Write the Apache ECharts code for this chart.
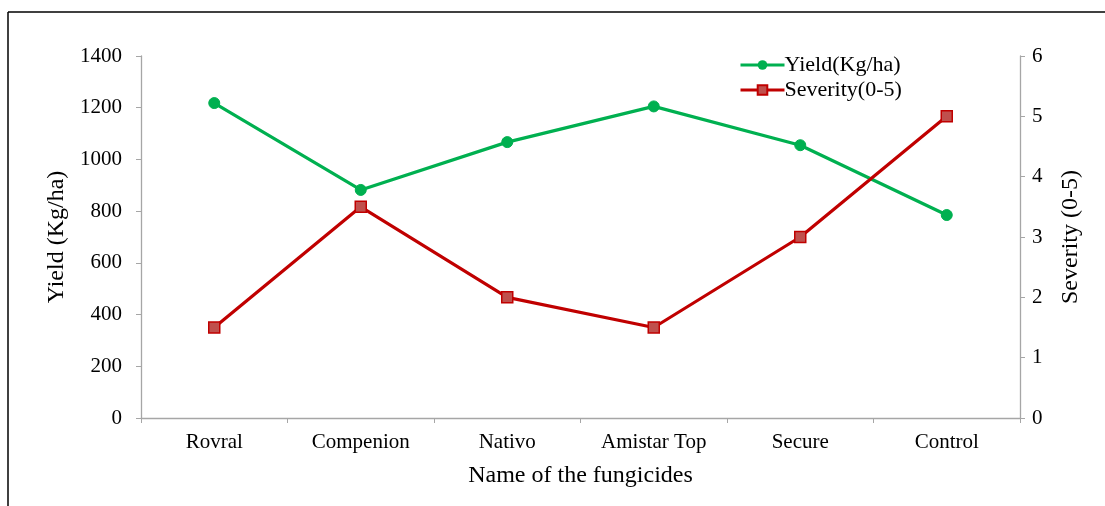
<!DOCTYPE html>
<html>
<head>
<meta charset="utf-8">
<script src="https://cdn.jsdelivr.net/npm/echarts@6/dist/echarts.min.js"></script>
<style>
html,body{margin:0;padding:0;background:#fff;}
#c{width:1105px;height:506px;}
</style>
</head>
<body>
<div id="c"></div>
<script>
var categories = ['Rovral', 'Compenion', 'Nativo', 'Amistar Top', 'Secure', 'Control'];
var yieldValues = [1218, 882, 1067, 1205, 1055, 785];
var severityValues = [1.5, 3.5, 2.0, 1.5, 3.0, 5.0];
var yieldName = 'Yield(Kg/ha)';
var severityName = 'Severity(0-5)';

var FONT = '"Liberation Serif", "Times New Roman", serif';
var AXIS_COLOR = '#a6a6a6';
var chart = echarts.init(document.getElementById('c'));
chart.setOption({
  animation: false,
  backgroundColor: '#fff',
  textStyle: { fontFamily: FONT, color: '#000' },
  graphic: [
    { type: 'line', shape: { x1: 8, y1: 12, x2: 1105, y2: 12 }, style: { stroke: '#000', lineWidth: 1.5 } },
    { type: 'line', shape: { x1: 8, y1: 12, x2: 8, y2: 506 }, style: { stroke: '#000', lineWidth: 1.5 } }
  ],
  grid: { left: 141, right: 85, top: 56, bottom: 88 },
  legend: {
    orient: 'vertical',
    left: 734, top: 49,
    itemWidth: 44, itemHeight: 12, itemGap: 3,
    lineStyle: { width: 3 },
    textStyle: { fontFamily: FONT, fontSize: 22, color: '#000', padding: [0, 0, 0, -5] },
    data: [yieldName, severityName]
  },
  xAxis: {
    type: 'category',
    data: categories,
    boundaryGap: true,
    name: 'Name of the fungicides',
    nameLocation: 'middle',
    nameGap: 46,
    nameTextStyle: { fontFamily: FONT, fontSize: 24, color: '#000' },
    axisLine: { lineStyle: { color: AXIS_COLOR, width: 1.3 } },
    axisTick: { show: true, length: 5, lineStyle: { color: AXIS_COLOR } },
    axisLabel: { fontFamily: FONT, fontSize: 21, color: '#000', margin: 14 },
    splitLine: { show: false }
  },
  yAxis: [
    {
      type: 'value', min: 0, max: 1400, interval: 200,
      name: 'Yield (Kg/ha)',
      nameLocation: 'middle',
      nameGap: 69,
      nameTextStyle: { fontFamily: FONT, fontSize: 24, color: '#000' },
      axisLine: { show: true, lineStyle: { color: AXIS_COLOR, width: 1.3 } },
      axisTick: { show: true, length: 5, lineStyle: { color: AXIS_COLOR } },
      axisLabel: { fontFamily: FONT, fontSize: 21, color: '#000', margin: 19, formatter: function (v) { return String(v); } },
      splitLine: { show: false }
    },
    {
      type: 'value', min: 0, max: 6, interval: 1,
      position: 'right',
      name: 'Severity (0-5)',
      nameLocation: 'middle',
      nameGap: 39,
      nameTextStyle: { fontFamily: FONT, fontSize: 24, color: '#000' },
      axisLine: { show: true, lineStyle: { color: AXIS_COLOR, width: 1.3 } },
      axisTick: { show: true, length: 5, lineStyle: { color: AXIS_COLOR } },
      axisLabel: { fontFamily: FONT, fontSize: 21, color: '#000', margin: 12 },
      splitLine: { show: false }
    }
  ],
  series: [
    {
      name: yieldName,
      type: 'line',
      yAxisIndex: 0,
      data: yieldValues,
      symbol: 'circle',
      symbolSize: 11,
      lineStyle: { color: '#00b050', width: 3.2 },
      itemStyle: { color: '#00b050', borderColor: '#00b050' }
    },
    {
      name: severityName,
      type: 'line',
      yAxisIndex: 1,
      data: severityValues,
      symbol: 'rect',
      symbolSize: 11,
      lineStyle: { color: '#c00000', width: 3.2 },
      itemStyle: { color: '#c0504d', borderColor: '#c00000', borderWidth: 1.5 }
    }
  ]
});
</script>
</body>
</html>
